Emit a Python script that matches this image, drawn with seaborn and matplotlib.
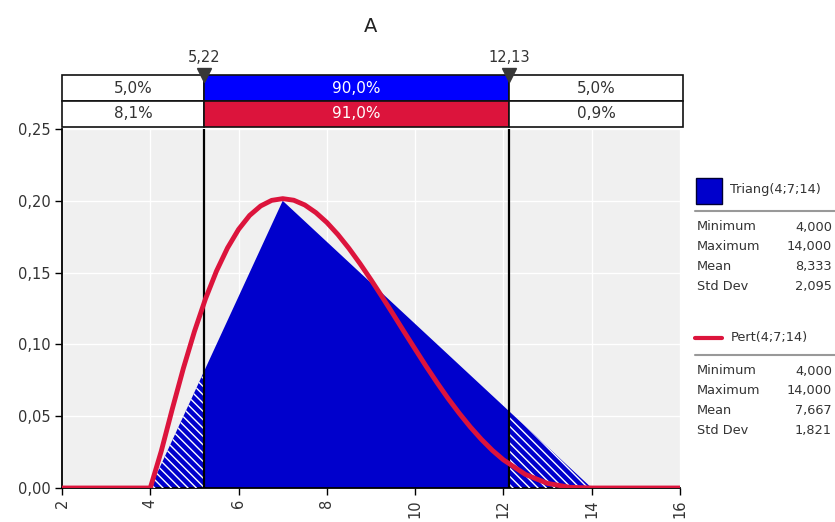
import numpy as np
import pandas as pd
import matplotlib
matplotlib.use("Agg")
import matplotlib.pyplot as plt
import seaborn as sns
from matplotlib.patches import Rectangle

# ---------------- data ----------------
title = "A"
# Triang(4;7;14): vertices of the density
tri_x = [4, 7, 14]
tri_y = [0.0, 0.2, 0.0]
# Pert(4;7;14): density
pert_x = [2, 4, 4.25, 4.5, 4.75, 5, 5.25, 5.5, 5.75, 6, 6.25, 6.5, 6.75, 7,
          7.25, 7.5, 7.75, 8, 8.25, 8.5, 8.75, 9, 9.25, 9.5, 9.75, 10,
          10.25, 10.5, 10.75, 11, 11.25, 11.5, 11.75, 12, 12.5, 13, 13.5, 14, 16]
pert_y = [0, 0, 0.0258, 0.0552, 0.0834, 0.1090, 0.1317, 0.1511, 0.1672, 0.1801,
          0.1898, 0.1964, 0.2003, 0.2015,
          0.2004, 0.1971, 0.1918, 0.1849, 0.1765, 0.1669, 0.1563, 0.1450, 0.1332,
          0.1211, 0.1088, 0.0967, 0.0847, 0.0732, 0.0622, 0.0520, 0.0425, 0.0339,
          0.0262, 0.0196, 0.0094, 0.0032, 0.0005, 0, 0]

lower_cut, upper_cut = 5.22, 12.13
cut_labels = ["5,22", "12,13"]
triang_pcts = ["5,0%", "90,0%", "5,0%"]
pert_pcts = ["8,1%", "91,0%", "0,9%"]

xticks = [2, 4, 6, 8, 10, 12, 14, 16]
yticks = [0.0, 0.05, 0.10, 0.15, 0.20, 0.25]
ytick_labels = ["0,00", "0,05", "0,10", "0,15", "0,20", "0,25"]

triang_name = "Triang(4;7;14)"
pert_name = "Pert(4;7;14)"
stat_names = ["Minimum", "Maximum", "Mean", "Std Dev"]
triang_stats = ["4,000", "14,000", "8,333", "2,095"]
pert_stats = ["4,000", "14,000", "7,667", "1,821"]

# ---------------- style ----------------
BLUE_FILL = "#0000cc"
BLUE_BOX = "#0000ff"
RED = "#dc143c"
TXT = "#333333"

sns.set_theme(style="white")
plt.rcParams['font.family'] = ['DejaVu Sans']
plt.rcParams['hatch.color'] = 'white'
plt.rcParams['hatch.linewidth'] = 1.0

W, H = 835, 522
fig = plt.figure(figsize=(W / 100, H / 100), dpi=100)
fig.patch.set_facecolor('white')

L, R, T, B = 62, 680, 129, 488
ax = fig.add_axes([L / W, (H - B) / H, (R - L) / W, (B - T) / H])
ax.set_facecolor('#f0f0f0')
ax.set_xlim(2, 16)
ax.set_ylim(0, 0.25)
ax.set_xticks(xticks)
ax.set_xticklabels([str(v) for v in xticks], rotation=90)
ax.set_yticks(yticks)
ax.set_yticklabels(ytick_labels)
ax.grid(True, color='white', lw=1)
ax.set_axisbelow(True)
for s in ['top', 'right']:
    ax.spines[s].set_visible(False)
for s in ['left', 'bottom']:
    ax.spines[s].set_color('black')
    ax.spines[s].set_linewidth(1.3)
ax.tick_params(axis='both', direction='out', length=5, width=1, color='black',
               labelsize=10.5, labelcolor=TXT, pad=3)
ax.tick_params(axis='x', bottom=True)
ax.tick_params(axis='y', left=True)

# triangular density
tri = ax.fill(tri_x, tri_y, color=BLUE_FILL, lw=0, zorder=2)[0]
for x0, x1 in [(2, lower_cut), (upper_cut, 16)]:
    span = ax.axvspan(x0, x1, facecolor='none', edgecolor='white',
                      hatch='\\\\\\\\', lw=0, zorder=3)
    span.set_clip_path(tri)

# cut lines
for c in (lower_cut, upper_cut):
    ax.axvline(c, color='black', lw=1.6, zorder=4)

# pert line
sns.lineplot(x=pert_x, y=pert_y, color=RED, lw=3.5, ax=ax, zorder=5)

# ---------------- percentile boxes ----------------
axb = fig.add_axes([L / W, (H - 127) / H, (683 - L) / W, (127 - 75) / H])
axb.set_xlim(2, 16 + (683 - 680) / ((R - L) / 14))
axb.set_ylim(0, 2)
axb.axis('off')
x_end = axb.get_xlim()[1]
lefts = [2, lower_cut, upper_cut]
widths = [lower_cut - 2, upper_cut - lower_cut, x_end - upper_cut]
rows = [(1.5, triang_pcts, ['white', BLUE_BOX, 'white']),
        (0.5, pert_pcts, ['white', RED, 'white'])]
for yc, labels, cols in rows:
    axb.barh([yc] * 3, widths, left=lefts, height=1, color=cols,
             edgecolor='#111111', lw=1.2, clip_on=False)
    for lft, w, lab, col in zip(lefts, widths, labels, cols):
        axb.text(lft + w / 2, yc, lab, ha='center', va='center', fontsize=11,
                 color='white' if col != 'white' else TXT)

axb.plot([lower_cut, upper_cut], [2, 2], marker='v', ms=10, color='#383838',
         ls='none', clip_on=False, zorder=6)
for c, lab in zip((lower_cut, upper_cut), cut_labels):
    axb.annotate(lab, (c, 2), xytext=(0, 12.5), textcoords='offset points',
                 ha='center', va='center', fontsize=10.5, color=TXT)

# title
fig.text(371 / W, 1 - 27 / H, title, ha='center', va='center', fontsize=14,
         color='#222222')

# ---------------- legend panel ----------------
lg = fig.add_axes([0, 0, 1, 1])
lg.set_xlim(0, W)
lg.set_ylim(H, 0)
lg.axis('off')

FS = 9.3
lg.add_patch(Rectangle((696, 178), 26, 26, facecolor=BLUE_FILL,
                       edgecolor='#000033', lw=1))
lg.text(730, 190, triang_name, va='center', ha='left', fontsize=FS, color=TXT)
lg.plot([695, 835], [211, 211], color='#999999', lw=1.5)
for i, (n, v) in enumerate(zip(stat_names, triang_stats)):
    y = 227 + i * 19.7
    lg.text(697, y, n, va='center', ha='left', fontsize=FS, color=TXT)
    lg.text(832, y, v, va='center', ha='right', fontsize=FS, color=TXT)

lg.plot([695, 722], [338, 338], color=RED, lw=3)
lg.text(731, 338, pert_name, va='center', ha='left', fontsize=FS, color=TXT)
lg.plot([695, 835], [355, 355], color='#999999', lw=1.5)
for i, (n, v) in enumerate(zip(stat_names, pert_stats)):
    y = 371 + i * 19.7
    lg.text(697, y, n, va='center', ha='left', fontsize=FS, color=TXT)
    lg.text(832, y, v, va='center', ha='right', fontsize=FS, color=TXT)

fig.savefig("out.png", dpi=100)
